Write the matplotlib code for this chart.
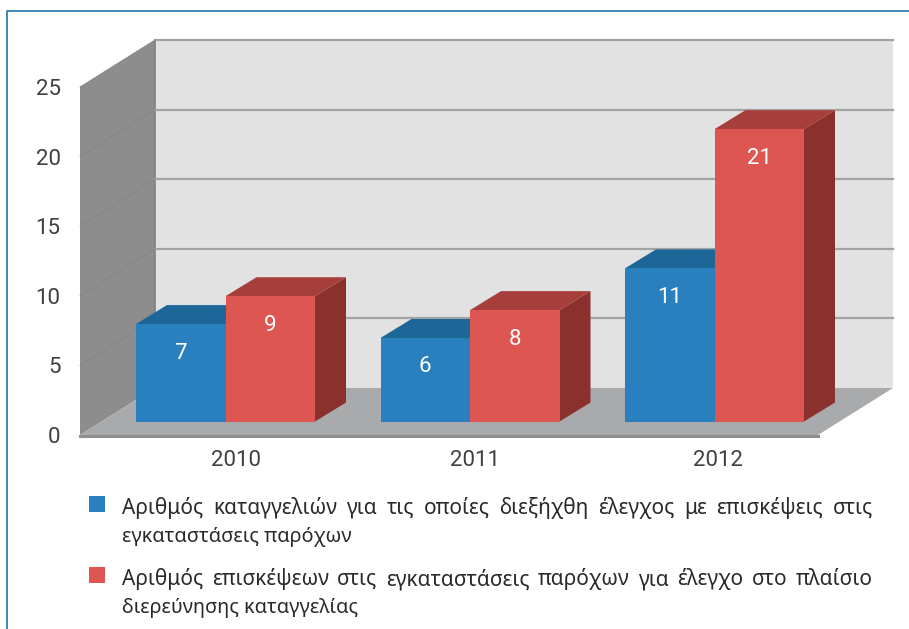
import numpy as np
import matplotlib
matplotlib.use('Agg')
import matplotlib.pyplot as plt
from matplotlib.patches import Rectangle
from matplotlib.lines import Line2D

plt.rcParams['font.family'] = ['Noto Sans', 'DejaVu Sans']
FONT_NUMERI = ['Roboto', 'DejaVu Sans']

anni = ['2010', '2011', '2012']
denunce = [7, 6, 11]
visite = [9, 8, 21]
y_ticks = [0, 5, 10, 15, 20, 25]
testi_legenda = [
    ['Αριθμός καταγγελιών για τις οποίες διεξήχθη έλεγχος με επισκέψεις στις',
     'εγκαταστάσεις παρόχων'],
    ['Αριθμός επισκέψεων στις εγκαταστάσεις παρόχων για έλεγχο στο πλαίσιο',
     'διερεύνησης καταγγελίας'],
]

W, H = 909, 629
BLU, BLU_TOP, BLU_SIDE = '#2a80bf', '#1c6798', '#174f78'
ROSSO, ROSSO_TOP, ROSSO_SIDE = '#dd5651', '#a63f3b', '#8a302d'
TESTO = '#2a2a2a'
TESTO_ASSI = '#404040'

fig = plt.figure(figsize=(W / 100, H / 100), dpi=100)
ax = fig.add_axes([80 / W, 1 - 435 / H, 738 / W, 348 / H], facecolor='none')
ax.set_xlim(0, 3)
ax.set_ylim(0, 25)

# un pixel in unita dati
px = 3 / 738
py = 25 / 348

# profondita pareti e barre, in unita dati
wall_dx, wall_dy = 75 * px, 47 * py
gap_dx, gap_dy = 22.5 * px, 13.5 * py
bar_dx, bar_dy = 31 * px, 19 * py
bar_w = 89.5 * px
passo = 244.5 * px


def poligono(xs, ys, colore, z):
    ax.fill(xs, ys, color=colore, lw=0, zorder=z, clip_on=False)


# pareti e pavimento
poligono([wall_dx, 3 + wall_dx, 3 + wall_dx, wall_dx],
         [wall_dy, wall_dy, 25 + wall_dy, 25 + wall_dy], '#e2e2e2', 1)
poligono([0, wall_dx, wall_dx, 0], [0, wall_dy, 25 + wall_dy, 25], '#8d8d8d', 2)
poligono([0, wall_dx, 3 + wall_dx, 3], [0, wall_dy, wall_dy, 0], '#a9aaab', 2)
ax.plot([0, 3], [-0.08, -0.08], color='#8f8f8f', lw=2.2, zorder=3, clip_on=False)
ax.plot([wall_dx, wall_dx], [wall_dy, 25 + wall_dy], color='#7f7f7f', lw=1.2, zorder=3, clip_on=False)

for t in y_ticks[1:]:
    ax.plot([wall_dx, 3 + wall_dx], [t + wall_dy, t + wall_dy], color='#a3a3a3', lw=1.6, zorder=3, clip_on=False)
    ax.plot([0, wall_dx], [t, t + wall_dy], color='#858585', lw=0.6, zorder=3, clip_on=False)

# barre
x = 0.5 + gap_dx + np.arange(len(anni)) * passo
for serie, offset, col, col_top, col_side, z in [
        (denunce, -bar_w / 2, BLU, BLU_TOP, BLU_SIDE, 4),
        (visite, bar_w / 2, ROSSO, ROSSO_TOP, ROSSO_SIDE, 6)]:
    for xi, v in zip(x, serie):
        x0, x1 = xi + offset - bar_w / 2, xi + offset + bar_w / 2
        top = gap_dy + v
        poligono([x1, x1 + bar_dx, x1 + bar_dx, x1],
                 [gap_dy, gap_dy + bar_dy, top + bar_dy, top], col_side, z)
        poligono([x0, x0 + bar_dx, x1 + bar_dx, x1],
                 [top, top + bar_dy, top + bar_dy, top], col_top, z)
        ax.annotate(str(v), (xi + offset, top), xytext=(0, -29 * 0.72), textcoords='offset points',
                    ha='center', va='center', color='white', fontsize=16, fontweight='normal',
                    zorder=z + 2, family=FONT_NUMERI, annotation_clip=False)
    ax.bar(x + offset, serie, bar_w, bottom=gap_dy, color=col, lw=0, zorder=z + 1, clip_on=False)

# assi
ax.set_yticks(y_ticks)
ax.set_yticklabels([str(t) for t in y_ticks], fontsize=16, color=TESTO_ASSI, family=FONT_NUMERI)
ax.tick_params(axis='y', length=0, pad=14)
# le etichette degli anni non sono proprio centrate sui gruppi
ax.set_xticks(x + np.array([10, 5, 3]) * px)
ax.set_xticklabels(anni, fontsize=16, color=TESTO_ASSI, family=FONT_NUMERI)
ax.tick_params(axis='x', length=0, pad=11)
for s in ax.spines.values():
    s.set_visible(False)

# cornice
fig.add_artist(Line2D([7.5 / W, 7.5 / W, 1], [0, 1 - 10.5 / H, 1 - 10.5 / H], color='#3d87b0', lw=1.4))


def riga_giustificata(riga, x0, x1, y):
    """Scrive la riga parola per parola, allargando gli spazi fino a x1."""
    renderer = fig.canvas.get_renderer()
    parole = [fig.text(0, 1 - y / H, p, fontsize=15, fontweight='light', color=TESTO, va='baseline', ha='left')
              for p in riga.split()]
    larghezze = [t.get_window_extent(renderer).width for t in parole]
    spazio = (x1 - x0 - sum(larghezze)) / (len(parole) - 1)
    pos = x0
    for t, w in zip(parole, larghezze):
        t.set_x(pos / W)
        pos += w + spazio


# legenda
y_quadrati = [496, 567]
y_righe = [[514, 542], [585, 613]]
for righe, yq, ys, col in zip(testi_legenda, y_quadrati, y_righe, [BLU, ROSSO]):
    fig.add_artist(Rectangle((89 / W, 1 - (yq + 16) / H), 16 / W, 16 / H, color=col, lw=0,
                             transform=fig.transFigure))
    riga_giustificata(righe[0], 122, 873, ys[0])
    fig.text(122 / W, 1 - ys[1] / H, righe[1], fontsize=14.3, fontweight='light', color=TESTO,
             va='baseline', ha='left')

fig.savefig('out.png', dpi=100)
